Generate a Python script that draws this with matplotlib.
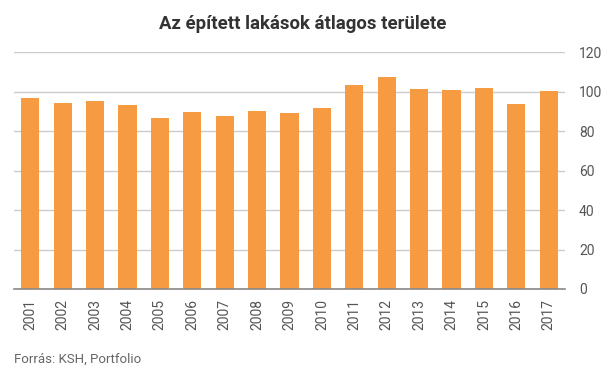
import matplotlib
matplotlib.use("Agg")
import matplotlib.pyplot as plt

years = ["2001", "2002", "2003", "2004", "2005", "2006", "2007", "2008", "2009",
         "2010", "2011", "2012", "2013", "2014", "2015", "2016", "2017"]
values = [96.6, 94.1, 95.1, 93.1, 86.9, 89.5, 87.5, 90.0, 89.0,
          92.0, 103.2, 107.3, 101.2, 100.7, 101.7, 93.6, 100.2]
yticks = [0, 20, 40, 60, 80, 100, 120]

title = "Az épített lakások átlagos területe"
source = "Forrás: KSH, Portfolio"

plt.rcParams['font.family'] = ['Roboto', 'DejaVu Sans']

fig = plt.figure(figsize=(6.07, 3.80), dpi=100)
ax = fig.add_axes([14/607, 1-289/380, (565-14)/607, (289-52.3)/380])

x = list(range(len(years)))
ax.bar(x, values, width=0.56, color="#F79B43", zorder=3)

ax.set_xlim(-0.5, len(years)-0.5)
ax.set_ylim(0, 120)
ax.set_yticks(yticks)
ax.yaxis.tick_right()
ax.yaxis.grid(True, color="#cccccc", linewidth=1, zorder=0)
ax.set_xticks(x)
ax.set_xticklabels(years, rotation=90, fontsize=10, color="#555555")
ax.tick_params(axis='y', length=0, pad=10, labelsize=10, labelcolor="#555555")
ax.tick_params(axis='x', length=0, pad=7)
for s in ["top", "left", "right"]:
    ax.spines[s].set_visible(False)
ax.spines["bottom"].set_color("#888888")
ax.spines["bottom"].set_linewidth(1.2)
ax.spines["bottom"].set_zorder(4)
for lbl in ax.get_yticklabels():
    lbl.set_horizontalalignment("left")

fig.text(303/607, 1-24/380, title, ha="center", va="center", fontsize=13.4,
         fontweight="bold", color="#333333")
fig.text(14/607, 1-359/380, source, ha="left", va="center", fontsize=9.5,
         color="#666666")

fig.savefig("out.png", dpi=100)
